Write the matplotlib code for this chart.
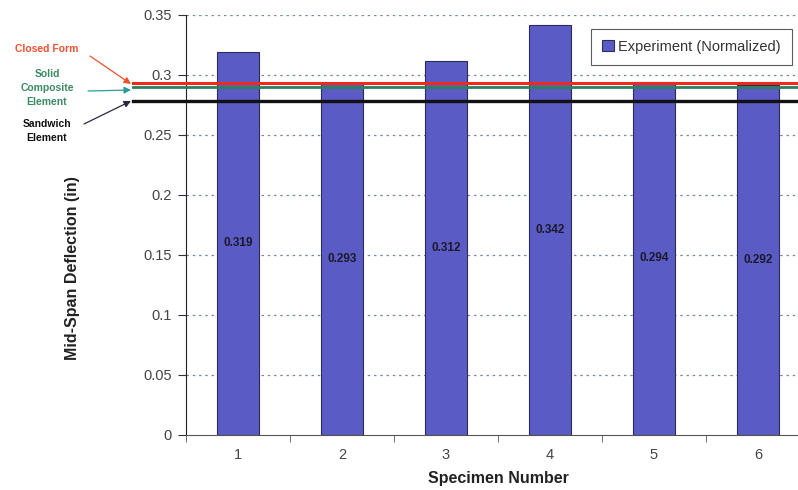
import matplotlib
matplotlib.use("Agg")
import matplotlib.pyplot as plt
import matplotlib.transforms as mtransforms

plt.rcParams['font.family'] = ['Liberation Sans', 'DejaVu Sans']

# Measured mid-span deflections per specimen
specimens = ["1", "2", "3", "4", "5", "6"]
deflection = [0.319, 0.293, 0.312, 0.342, 0.294, 0.292]

# Predicted deflections from the analytical and FE models
closed_form = 0.293
solid_composite = 0.290
sandwich = 0.278

y_ticks = [0, 0.05, 0.1, 0.15, 0.2, 0.25, 0.3, 0.35]
y_tick_labels = ["0", "0.05", "0.1", "0.15", "0.2", "0.25", "0.3", "0.35"]

fig = plt.figure(figsize=(7.98, 4.90), dpi=100)
fig.patch.set_facecolor("white")
ax = fig.add_axes([186 / 798, 55.5 / 490, 624 / 798, 419.5 / 490])

x = list(range(1, len(specimens) + 1))
bars = ax.bar(x, deflection, width=0.4, color="#5b5bc6", edgecolor="#2b2b5e",
              linewidth=0.8, label="Experiment (Normalized)", zorder=2)

for xi, v in zip(x, deflection):
    ax.text(xi, v / 2, f"{v:.3f}", ha="center", va="center", fontsize=8.5,
            fontweight="bold", color="#1a1a2a", zorder=4)

ax.set_xlim(0.5, 6.5)
ax.set_ylim(0, 0.35)
ax.set_yticks(y_ticks)
ax.set_yticklabels(y_tick_labels)
ax.set_xticks(x)
ax.set_xticklabels(specimens)
ax.set_xticks([i + 0.5 for i in range(0, 7)], minor=True)
ax.tick_params(axis="x", which="major", length=0, pad=10, labelsize=10.5, labelcolor="#444444")
ax.tick_params(axis="x", which="minor", length=5, direction="out", color="#555555")
ax.tick_params(axis="y", length=6, direction="out", pad=4, labelsize=10.5,
               labelcolor="#444444", color="#333333")

for yv in y_ticks[1:]:
    ax.axhline(yv, color="#7a8aa0", linestyle=(0, (2, 3)), linewidth=0.9, zorder=1)

for side in ["top", "right"]:
    ax.spines[side].set_visible(False)
ax.spines["left"].set_color("#222222")
ax.spines["bottom"].set_color("#555555")

# Model prediction lines, extended slightly left of the value axis
trans = mtransforms.blended_transform_factory(ax.transAxes, ax.transData)
x0 = (133 - 186) / 624
ax.plot([x0, 1.05], [closed_form, closed_form], transform=trans, color="#ee2a1a",
        linewidth=2.2, clip_on=False, zorder=3)
ax.plot([x0, 1.05], [solid_composite, solid_composite], transform=trans, color="#2f7f5f",
        linewidth=2.0, clip_on=False, zorder=3)
ax.plot([x0, 1.05], [sandwich, sandwich], transform=trans, color="#111111",
        linewidth=2.4, clip_on=False, zorder=3)

ax.set_xlabel("Specimen Number", fontsize=11.5, fontweight="bold", color="#222222", labelpad=6)
fig.text(73 / 798, 1 - 268 / 490, "Mid-Span Deflection (in)", rotation=90, ha="center",
         va="center", fontsize=11.5, fontweight="bold", color="#222222")

leg = ax.legend(loc="upper right", bbox_to_anchor=(792 / 798, 1 - 29 / 490),
                bbox_transform=fig.transFigure, frameon=True, fancybox=False,
                fontsize=10.5, handlelength=0.8, handleheight=0.8, borderpad=0.75,
                handletextpad=0.3, borderaxespad=0)
leg.get_frame().set_edgecolor("#333333")
leg.get_frame().set_linewidth(0.8)
for t in leg.get_texts():
    t.set_color("#333333")

# Annotations for the prediction lines
def fpt(px, py):
    return (px / 798, 1 - py / 490)

fig.text(*fpt(47, 49), "Closed Form", ha="center", va="center", fontsize=7.5,
         fontweight="bold", color="#f0502c")
fig.text(*fpt(47, 88), "Solid\nComposite\nElement", ha="center", va="center",
         fontsize=7.5, fontweight="bold", color="#3a8a62", linespacing=1.45)
fig.text(*fpt(47, 131), "Sandwich\nElement", ha="center", va="center",
         fontsize=7.5, fontweight="bold", color="#111111", linespacing=1.45)

arrow_specs = [
    ((90, 56), (131, 84), "#f0502c"),
    ((88, 91), (131, 90), "#2a9a9a"),
    ((84, 124), (131, 101), "#2a2a44"),
]
for (sx, sy), (ex, ey), col in arrow_specs:
    ax.annotate("", xy=fpt(ex, ey), xycoords="figure fraction",
                xytext=fpt(sx, sy), textcoords="figure fraction",
                arrowprops=dict(arrowstyle="-|>", color=col, lw=0.9,
                                mutation_scale=10, shrinkA=0, shrinkB=0),
                annotation_clip=False)

fig.savefig("out.png", dpi=100, facecolor="white")
